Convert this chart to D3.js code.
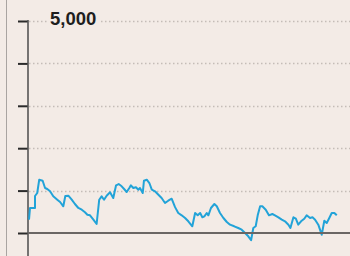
<!DOCTYPE html>
<html><head><meta charset="utf-8">
<script src="https://cdn.jsdelivr.net/npm/d3@7"></script>
<style>html,body{margin:0;padding:0;background:#f3ebe6;overflow:hidden}</style>
</head><body><svg id="c" width="350" height="256"></svg>
<script>
// time index (weeks) of each observation
const weeks = [0,0.5,3,3,4.1,5.1,6.8,8,9.1,10.5,12.1,14.1,15.5,17.1,18.1,19.6,21.3,22.9,24.6,26.3,
  27.9,29.1,30.4,32.1,33.7,35,36.2,37.4,38.7,40.4,42,43.4,44.7,46.2,47.4,48.7,50,50.8,52,53.3,
  54.5,55.3,56.7,57.3,58.7,60,61.2,62.8,64.5,66.1,67.8,69.4,71.1,72.8,
  74.4,76.1,77.8,79.4,81.4,82.8,84.1,85.3,86.4,87.4,88.6,89.4,90.7,92.4,93.6,95.2,96.9,98.6,100.2,102.3,
  104.3,106,107.7,109.3,110.7,111.8,113,114,115.2,116.3,118,119.6,121.3,122.6,124.3,126,127.6,129.3,130.3,131.8,
  133,134.2,135.6,137.2,138.4,140.1,141.3,142.6,144.2,145.9,147.2,148.4,149.5,150.9,152.2,153.4];
const values = [314,590,590,872,943,1257,1233,1061,1038,983,865,785,731,630,872,880,785,684,590,549,
  488,432,417,314,212,785,865,785,880,960,825,1125,1155,1101,1038,967,1061,1125,1061,1078,
  1021,1061,943,1233,1257,1179,1021,983,903,825,707,762,809,610,
  472,417,354,276,158,472,417,472,370,394,472,417,590,684,630,472,354,259,196,158,
  118,78,0,-78,-170,118,158,417,630,630,549,417,448,417,370,314,276,196,118,370,
  337,196,276,337,417,354,370,314,196,-40,290,236,337,472,472,417];
const yTicks = [0,1000,2000,3000,4000,5000];
const topLabel = "5,000";

const svg = d3.select("#c");
const bg = "#f3ebe6";
const x = d3.scaleLinear().domain([0,160]).range([29,350]);
const y = d3.scaleLinear().domain([0,5000]).range([233,21]);

// left frame line
svg.append("line").attr("x1",6.5).attr("x2",6.5).attr("y1",0).attr("y2",256)
  .attr("stroke","#a9a4a1").attr("stroke-width",1);

// gridlines
svg.append("g").selectAll("line").data(yTicks.filter(d=>d>0)).join("line")
  .attr("x1",29).attr("x2",350).attr("y1",d=>Math.round(y(d))+0.5).attr("y2",d=>Math.round(y(d))+0.5)
  .attr("stroke","#c4bcb7").attr("stroke-width",1.3).attr("stroke-dasharray","1.5,2.5");

// y axis
const ax = svg.append("g").attr("transform","translate(28,0)")
  .call(d3.axisLeft(y).tickValues(yTicks).tickSize(10).tickFormat(""));
ax.select(".domain").remove();
ax.selectAll(".tick line").attr("stroke","#2a2a2a").attr("stroke-width",2);
svg.append("line").attr("x1",28).attr("x2",28).attr("y1",y(5000)-1).attr("y2",256)
  .attr("stroke","#555").attr("stroke-width",1.6);

// label with background
const t = svg.append("text").attr("x",50).attr("y",25)
  .attr("font-family","Liberation Sans, Arial, sans-serif").attr("font-size",18.5)
  .attr("font-weight","bold").attr("fill","#1e1e1e").text(topLabel);
const bb = t.node().getBBox();
svg.insert("rect", () => t.node()).attr("x",bb.x-3).attr("y",bb.y).attr("width",bb.width+6).attr("height",bb.height).attr("fill",bg);

// series line
const line = d3.line().x((d,i)=>x(weeks[i])).y(d=>y(d));
svg.append("path").datum(values).attr("d",line).attr("fill","none")
  .attr("stroke","#22a3d8").attr("stroke-width",2).attr("stroke-linejoin","round");

// baseline
svg.append("line").attr("x1",28).attr("x2",350).attr("y1",y(0)).attr("y2",y(0))
  .attr("stroke","#6a6664").attr("stroke-width",2);
</script></body></html>
